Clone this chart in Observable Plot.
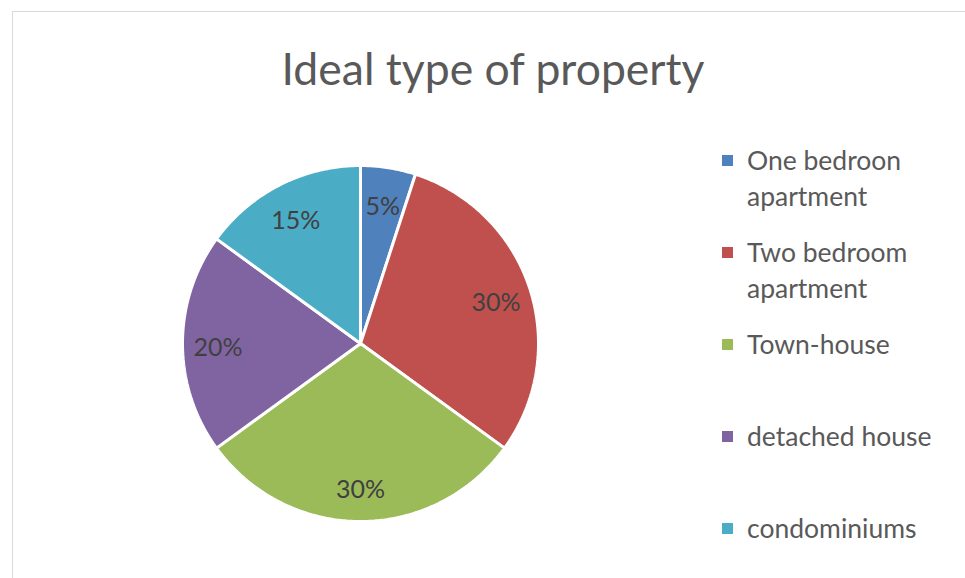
<!DOCTYPE html>
<html><head><meta charset="utf-8">
<script src="https://cdn.jsdelivr.net/npm/d3@7"></script>
<script src="https://cdn.jsdelivr.net/npm/@observablehq/plot@0.6"></script>
<style>
body{margin:0;background:#fff;font-family:Lato,"Open Sans",sans-serif;}
#wrap{position:relative;width:965px;height:578px;overflow:hidden;}
#frame{position:absolute;left:12px;top:11px;width:1000px;height:620px;border:1px solid #d9d9d9;}
#chart{position:absolute;left:0;top:0;}
#title{position:absolute;left:12px;top:39px;width:962px;text-align:center;font-size:44.5px;line-height:58px;color:#595959;}
#legend{position:absolute;left:722px;top:142px;}
.item{position:relative;height:92px;}
.sw{position:absolute;left:0;top:13px;width:11px;height:11px;}
.lt{position:absolute;left:25px;top:0;width:215px;font-size:26.5px;line-height:36px;color:#595959;}
</style></head>
<body>
<div id="wrap">
  <div id="frame"></div>
  <div id="chart"></div>
  <div id="title">Ideal type of property</div>
  <div id="legend"></div>
</div>
<script>
const categories = ["One bedroon apartment","Two bedroom apartment","Town-house","detached house","condominiums"];
const shares = [5,30,30,20,15];
const labels = ["5%","30%","30%","20%","15%"];
const colors = ["#4F81BD","#C0504D","#9BBB59","#8064A2","#4BACC6"];

const arcs = d3.pie().sort(null).value(d => d)(shares);
const pts = [];
arcs.forEach((a, i) => {
  const cat = categories[i];
  pts.push({cat, x: 0, y: 0});
  const n = Math.max(8, Math.ceil((a.endAngle - a.startAngle) / 0.01));
  for (let k = 0; k <= n; k++) {
    const t = a.startAngle + (a.endAngle - a.startAngle) * k / n;
    pts.push({cat, x: Math.sin(t), y: Math.cos(t)});
  }
});
const labelPos = arcs.map((a, i) => {
  const m = (a.startAngle + a.endAngle) / 2;
  return {text: labels[i], x: 0.8 * Math.sin(m), y: 0.8 * Math.cos(m)};
});

const plot = Plot.plot({
  width: 965, height: 578, margin: 0,
  style: {background: "transparent", fontFamily: "Lato, 'Open Sans', sans-serif"},
  x: {domain: [-1, 1], range: [182, 538], axis: null},
  y: {domain: [-1, 1], range: [521, 165], axis: null},
  color: {domain: categories, range: colors},
  marks: [
    Plot.line(pts, {x: "x", y: "y", z: "cat", fill: "cat", stroke: "white", strokeWidth: 3, curve: "linear-closed", strokeLinejoin: "miter"}),
    Plot.text(labelPos, {x: "x", y: "y", text: "text", fontSize: 25, dy: 4, fill: "#404040"})
  ]
});
document.getElementById("chart").appendChild(plot);

const color = plot.scale("color");
const legend = document.getElementById("legend");
categories.forEach(c => {
  const it = document.createElement("div"); it.className = "item";
  const sw = document.createElement("div"); sw.className = "sw"; sw.style.background = color.apply(c);
  const lt = document.createElement("div"); lt.className = "lt"; lt.textContent = c;
  it.appendChild(sw); it.appendChild(lt); legend.appendChild(it);
});
</script>
</body></html>
